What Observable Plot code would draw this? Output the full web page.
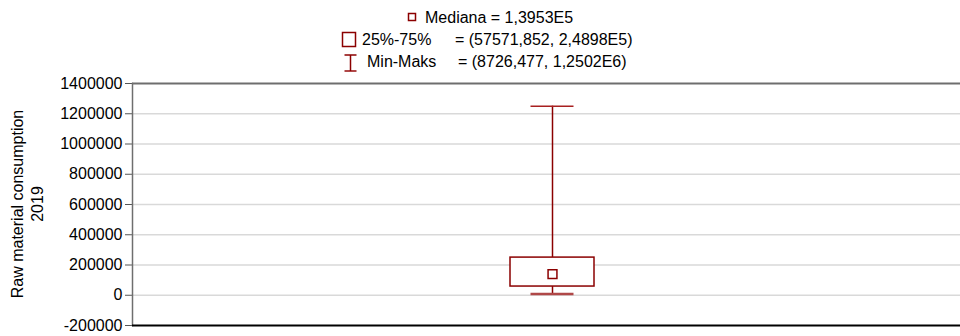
<!DOCTYPE html>
<html>
<head>
<meta charset="utf-8">
<script src="https://cdn.jsdelivr.net/npm/d3@7"></script>
<script src="https://cdn.jsdelivr.net/npm/@observablehq/plot@0.6"></script>
<style>
  html, body { margin: 0; padding: 0; background: #fff; overflow: hidden; }
  #wrap { position: relative; width: 960px; height: 336px; overflow: hidden; }
  #chart { position: absolute; left: 0; top: 0; width: 972px; }
  #overlay { position: absolute; left: 0; top: 0; pointer-events: none; }
  text { font-family: "Liberation Sans", Arial, sans-serif; }
</style>
</head>
<body>
<div id="wrap">
  <div id="chart"></div>
  <svg id="overlay" width="960" height="336"></svg>
</div>
<script>
// Summary statistics of raw material consumption, 2019
const category = ["Raw material consumption 2019"];
const medianValue = [139530];
const quartileValues = [57571.852, 248980];   // 25% and 75%
const rangeValues = [8726.477, 1250200];      // min and max
const yTicks = [-200000, 0, 200000, 400000, 600000, 800000, 1000000, 1200000, 1400000];
const axisTitle = ["Raw material consumption", "2019"];
const legendNames = ["Mediana", "25%-75%", "Min-Maks"];

const red = "#8b0000";
const font = "Liberation Sans, Arial, sans-serif";

// Decimal comma; large values in E-notation with five significant digits
function fmt(v) {
  if (Math.abs(v) >= 1e5) {
    const e = Math.floor(Math.log10(Math.abs(v)));
    const m = (v / 10 ** e).toFixed(4).replace(".", ",");
    return `${m}E${e}`;
  }
  return String(+v.toFixed(3)).replace(".", ",");
}

const stats = [{
  cat: category[0],
  median: medianValue[0],
  q1: quartileValues[0], q3: quartileValues[1],
  min: rangeValues[0], max: rangeValues[1]
}];

const plot = Plot.plot({
  width: 972,
  height: 336,
  marginLeft: 132,
  marginRight: 0,
  marginTop: 83,
  marginBottom: 11,
  style: { fontFamily: font, fontSize: "16px", background: "#fff", overflow: "visible", maxWidth: "none" },
  x: { type: "band", domain: category, padding: 0, axis: null },
  y: { domain: [yTicks[0], yTicks[yTicks.length - 1]], label: null },
  marks: [
    Plot.gridY(yTicks.slice(1, -1), { stroke: "#d9d9d9", strokeOpacity: 1, strokeWidth: 1.5 }),
    Plot.axisY(yTicks, {
      tickFormat: d => String(d), tickSize: 7, tickPadding: 3,
      stroke: "#555", fill: "#000", fontSize: 16, label: null
    }),
    // whiskers
    Plot.ruleX(stats, { x: "cat", y1: "min", y2: "q1", stroke: red, strokeWidth: 1.5 }),
    Plot.ruleX(stats, { x: "cat", y1: "q3", y2: "max", stroke: red, strokeWidth: 1.5 }),
    Plot.tickY(stats, { x: "cat", y: "min", stroke: "#b04848", strokeWidth: 2.5, insetLeft: 398.5, insetRight: 398.5 }),
    Plot.tickY(stats, { x: "cat", y: "max", stroke: "#a82020", strokeWidth: 1.5, insetLeft: 398.5, insetRight: 398.5 }),
    // interquartile box
    Plot.barY(stats, { x: "cat", y1: "q1", y2: "q3", fill: "#fff", stroke: red, strokeWidth: 1.5, insetLeft: 378, insetRight: 378 }),
    // median
    Plot.dot(stats, { x: "cat", y: "median", symbol: "square", r: 5, fill: "#fff", stroke: red, strokeWidth: 1.5 }),
    // frame
    Plot.frame({ anchor: "left", stroke: "#6e6e6e", strokeWidth: 1.5 }),
    Plot.ruleY([yTicks[yTicks.length - 1]], { stroke: "#6e6e6e", strokeWidth: 2 }),
    Plot.ruleY([yTicks[0]], { stroke: "#000", strokeWidth: 2 })
  ]
});
document.getElementById("chart").appendChild(plot);

// Legend and the y-axis title
const svg = d3.select("#overlay");
const lg = svg.append("g").attr("font-family", font).attr("font-size", 16).attr("fill", "#000");

// median entry
lg.append("rect").attr("x", 408.5).attr("y", 13.5).attr("width", 7).attr("height", 7)
  .attr("fill", "#fff").attr("stroke", red).attr("stroke-width", 1.5);
lg.append("text").attr("x", 425).attr("y", 17).attr("dy", "0.35em")
  .text(`${legendNames[0]} = ${fmt(medianValue[0])}`);

// quartile entry
lg.append("rect").attr("x", 342.5).attr("y", 32.5).attr("width", 13).attr("height", 14)
  .attr("fill", "#fff").attr("stroke", red).attr("stroke-width", 1.5);
lg.append("text").attr("x", 362).attr("y", 39).attr("dy", "0.35em").text(legendNames[1]);
lg.append("text").attr("x", 455).attr("y", 39).attr("dy", "0.35em")
  .text(`= (${fmt(quartileValues[0])}, ${fmt(quartileValues[1])})`);

// range entry
const iy1 = 55, iy2 = 71, ix = 350.5;
lg.append("line").attr("x1", ix - 6).attr("x2", ix + 6).attr("y1", iy1).attr("y2", iy1).attr("stroke", red).attr("stroke-width", 1.5);
lg.append("line").attr("x1", ix - 6).attr("x2", ix + 6).attr("y1", iy2).attr("y2", iy2).attr("stroke", "#b04848").attr("stroke-width", 2);
lg.append("line").attr("x1", ix).attr("x2", ix).attr("y1", iy1).attr("y2", iy2).attr("stroke", red).attr("stroke-width", 1.5);
lg.append("text").attr("x", 367).attr("y", 61).attr("dy", "0.35em").text(legendNames[2]);
lg.append("text").attr("x", 458).attr("y", 61).attr("dy", "0.35em")
  .text(`= (${fmt(rangeValues[0])}, ${fmt(rangeValues[1])})`);

const title = svg.append("text")
  .attr("transform", "translate(29,204) rotate(-90)")
  .attr("text-anchor", "middle")
  .attr("font-family", font).attr("font-size", 16).attr("fill", "#000");
title.append("tspan").attr("x", 0).attr("dy", "-0.35em").text(axisTitle[0]);
title.append("tspan").attr("x", 0).attr("dy", "1.2em").text(axisTitle[1]);
</script>
</body>
</html>
